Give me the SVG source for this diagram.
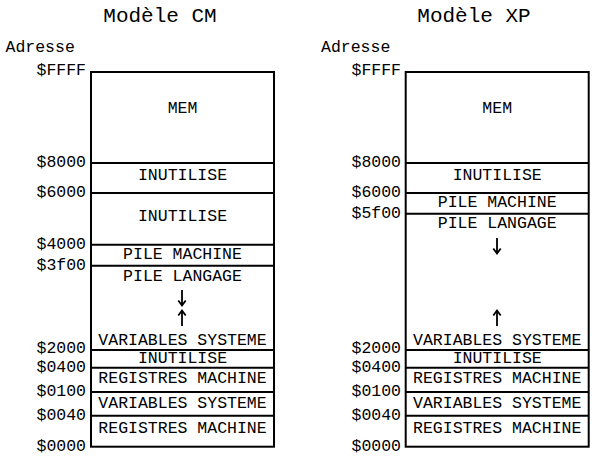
<svg xmlns="http://www.w3.org/2000/svg" width="615" height="462" viewBox="0 0 615 462">
<style>
text{font-family:"Liberation Mono","Courier New",monospace;fill:#000}
.title{font-size:21px;text-anchor:middle}
.ax{font-size:16.5px}
.addr{font-size:16.5px;text-anchor:end}
.lbl{font-size:16.5px;text-anchor:middle}
.box{fill:#fff;stroke:#000;stroke-width:2}
.sep{stroke:#000;stroke-width:2;fill:none}
.arr{stroke:#000;stroke-width:1.8;fill:none;stroke-linecap:butt;stroke-linejoin:miter}
</style>
<rect width="615" height="462" fill="#fff"/>
<g id="cm">
<text class="title" x="160" y="22">Modèle CM</text>
<text class="ax" x="5.5" y="52">Adresse</text>
<rect class="box" x="91" y="72" width="183" height="374.7"/>
<g id="connectors-cm">
<line class="sep" x1="91" y1="163" x2="274" y2="163"/>
<line class="sep" x1="91" y1="193" x2="274" y2="193"/>
<line class="sep" x1="91" y1="244.7" x2="274" y2="244.7"/>
<line class="sep" x1="91" y1="265.7" x2="274" y2="265.7"/>
<line class="sep" x1="91" y1="350" x2="274" y2="350"/>
<line class="sep" x1="91" y1="367.7" x2="274" y2="367.7"/>
<line class="sep" x1="91" y1="392" x2="274" y2="392"/>
<line class="sep" x1="91" y1="415.7" x2="274" y2="415.7"/>
<path class="arr" d="M182,290 V305 M178.3,300.5 L182,305.5 L185.7,300.5"/>
<path class="arr" d="M182,326 V311 M178.3,315.5 L182,310.5 L185.7,315.5"/>
</g>
<text class="addr" x="86" y="75">$FFFF</text>
<text class="addr" x="86" y="167">$8000</text>
<text class="addr" x="86" y="197">$6000</text>
<text class="addr" x="86" y="248.5">$4000</text>
<text class="addr" x="86" y="269.5">$3f00</text>
<text class="addr" x="86" y="353">$2000</text>
<text class="addr" x="86" y="371.5">$0400</text>
<text class="addr" x="86" y="395.5">$0100</text>
<text class="addr" x="86" y="419.5">$0040</text>
<text class="addr" x="86" y="450.5">$0000</text>
<text class="lbl" x="182.5" y="112.7">MEM</text>
<text class="lbl" x="182.5" y="180">INUTILISE</text>
<text class="lbl" x="182.5" y="220.7">INUTILISE</text>
<text class="lbl" x="182.5" y="259.3">PILE MACHINE</text>
<text class="lbl" x="182.5" y="280.7">PILE LANGAGE</text>
<text class="lbl" x="182.5" y="345">VARIABLES SYSTEME</text>
<text class="lbl" x="182.5" y="363.3">INUTILISE</text>
<text class="lbl" x="182.5" y="383.3">REGISTRES MACHINE</text>
<text class="lbl" x="182.5" y="408.3">VARIABLES SYSTEME</text>
<text class="lbl" x="182.5" y="432.7">REGISTRES MACHINE</text>
</g>
<g id="xp">
<text class="title" x="474" y="22">Modèle XP</text>
<text class="ax" x="321" y="52">Adresse</text>
<rect class="box" x="405.7" y="72" width="183" height="374.7"/>
<g id="connectors-xp">
<line class="sep" x1="405.7" y1="163" x2="588.7" y2="163"/>
<line class="sep" x1="405.7" y1="193" x2="588.7" y2="193"/>
<line class="sep" x1="405.7" y1="213.7" x2="588.7" y2="213.7"/>
<line class="sep" x1="405.7" y1="350" x2="588.7" y2="350"/>
<line class="sep" x1="405.7" y1="367.7" x2="588.7" y2="367.7"/>
<line class="sep" x1="405.7" y1="392" x2="588.7" y2="392"/>
<line class="sep" x1="405.7" y1="415.7" x2="588.7" y2="415.7"/>
<path class="arr" d="M497,238 V253 M493.3,248.5 L497,253.5 L500.7,248.5"/>
<path class="arr" d="M497,326 V311 M493.3,315.5 L497,310.5 L500.7,315.5"/>
</g>
<text class="addr" x="401" y="75">$FFFF</text>
<text class="addr" x="401" y="167">$8000</text>
<text class="addr" x="401" y="197">$6000</text>
<text class="addr" x="401" y="217.5">$5f00</text>
<text class="addr" x="401" y="353">$2000</text>
<text class="addr" x="401" y="371.5">$0400</text>
<text class="addr" x="401" y="395.5">$0100</text>
<text class="addr" x="401" y="419.5">$0040</text>
<text class="addr" x="401" y="450.5">$0000</text>
<text class="lbl" x="497.2" y="112.7">MEM</text>
<text class="lbl" x="497.2" y="180">INUTILISE</text>
<text class="lbl" x="497.2" y="207.3">PILE MACHINE</text>
<text class="lbl" x="497.2" y="228.3">PILE LANGAGE</text>
<text class="lbl" x="497.2" y="345">VARIABLES SYSTEME</text>
<text class="lbl" x="497.2" y="363.3">INUTILISE</text>
<text class="lbl" x="497.2" y="383.3">REGISTRES MACHINE</text>
<text class="lbl" x="497.2" y="408.3">VARIABLES SYSTEME</text>
<text class="lbl" x="497.2" y="432.7">REGISTRES MACHINE</text>
</g>
</svg>
